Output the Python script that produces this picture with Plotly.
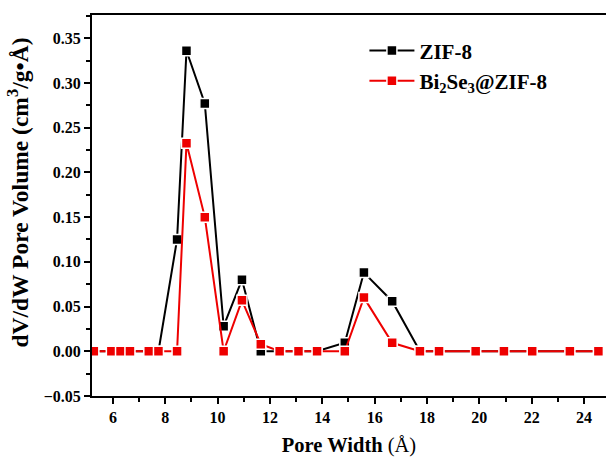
import plotly.graph_objects as go

# Pore width (Å) sampled for both materials
pore_width = [5.27, 5.94, 6.29, 6.65, 7.37, 7.74, 8.45, 8.81, 9.51, 10.23, 10.93, 11.65,
              12.37, 13.09, 13.80, 14.86, 15.59, 16.67, 17.73, 18.46, 19.86, 20.94,
              22.02, 23.46, 24.55]

# dV/dW pore volume (cm3/g·Å)
zif8 = [0, 0, 0, 0, 0, 0, 0.125, 0.336, 0.277, 0.028, 0.080, 0.0,
        0, 0, 0, 0.0095, 0.088, 0.056, 0, 0, 0, 0, 0, 0, 0]
bi2se3_zif8 = [0, 0, 0, 0, 0, 0, 0, 0.2325, 0.150, 0.0, 0.057, 0.008,
               0, 0, 0, 0, 0.060, 0.0095, 0, 0, 0, 0, 0, 0, 0]

series_names = ["ZIF-8", "Bi<sub>2</sub>Se<sub>3</sub>@ZIF-8"]
series_colors = ["#000000", "#ee0000"]

x_ticks = [6, 8, 10, 12, 14, 16, 18, 20, 22, 24]
y_ticks = [-0.05, 0.00, 0.05, 0.10, 0.15, 0.20, 0.25, 0.30, 0.35]

font_family = "Liberation Serif"

fig = go.Figure()
for name, vals, color in zip(series_names, [zif8, bi2se3_zif8], series_colors):
    fig.add_trace(go.Scatter(
        x=pore_width, y=vals, name=name, mode="lines+markers",
        line=dict(color=color, width=2),
        marker=dict(symbol="square", size=10, color=color,
                    line=dict(color="white", width=1.5)),
    ))

axis_common = dict(
    showgrid=False, zeroline=False, showline=True, linecolor="black", linewidth=2,
    ticks="outside", tickcolor="black", tickwidth=2, ticklen=6,
    tickfont=dict(family=font_family, size=16, color="black", weight="bold"),
)

fig.update_layout(
    width=606, height=459,
    margin=dict(l=92, r=0, t=15, b=63),
    paper_bgcolor="white", plot_bgcolor="white",
    font=dict(family=font_family, color="black"),
    showlegend=True,
    legend=dict(x=0.53, y=0.96, xanchor="left", yanchor="top",
                bgcolor="rgba(0,0,0,0)", itemwidth=45,
                font=dict(family=font_family, size=21, color="black", weight="bold"),
                tracegroupgap=0),
    xaxis=dict(
        range=[5.2, 24.84], tickvals=x_ticks, mirror=True,
        minor=dict(dtick=1, tick0=5, ticks="outside", ticklen=4, tickwidth=2, tickcolor="black"),
        title=dict(text="<b>Pore Width</b> (Å)", standoff=12,
                   font=dict(family=font_family, size=20.5, color="black")),
        **axis_common,
    ),
    yaxis=dict(
        range=[-0.05, 0.376], tickvals=y_ticks, tickformat=".2f",
        minor=dict(dtick=0.025, tick0=-0.05, ticks="outside", ticklen=4, tickwidth=2, tickcolor="black"),
        **axis_common,
    ),
)

# Y-axis title placed as a rotated annotation, sitting slightly above the plot centre
fig.add_annotation(
    text="<b>dV/dW Pore Volume (cm<sup>3</sup>/g•Å)</b>",
    xref="paper", yref="paper", x=-0.144, y=0.534,
    xanchor="center", yanchor="middle", textangle=-90, showarrow=False,
    font=dict(family=font_family, size=23.5, color="black"),
)

fig.write_html("out.html")
